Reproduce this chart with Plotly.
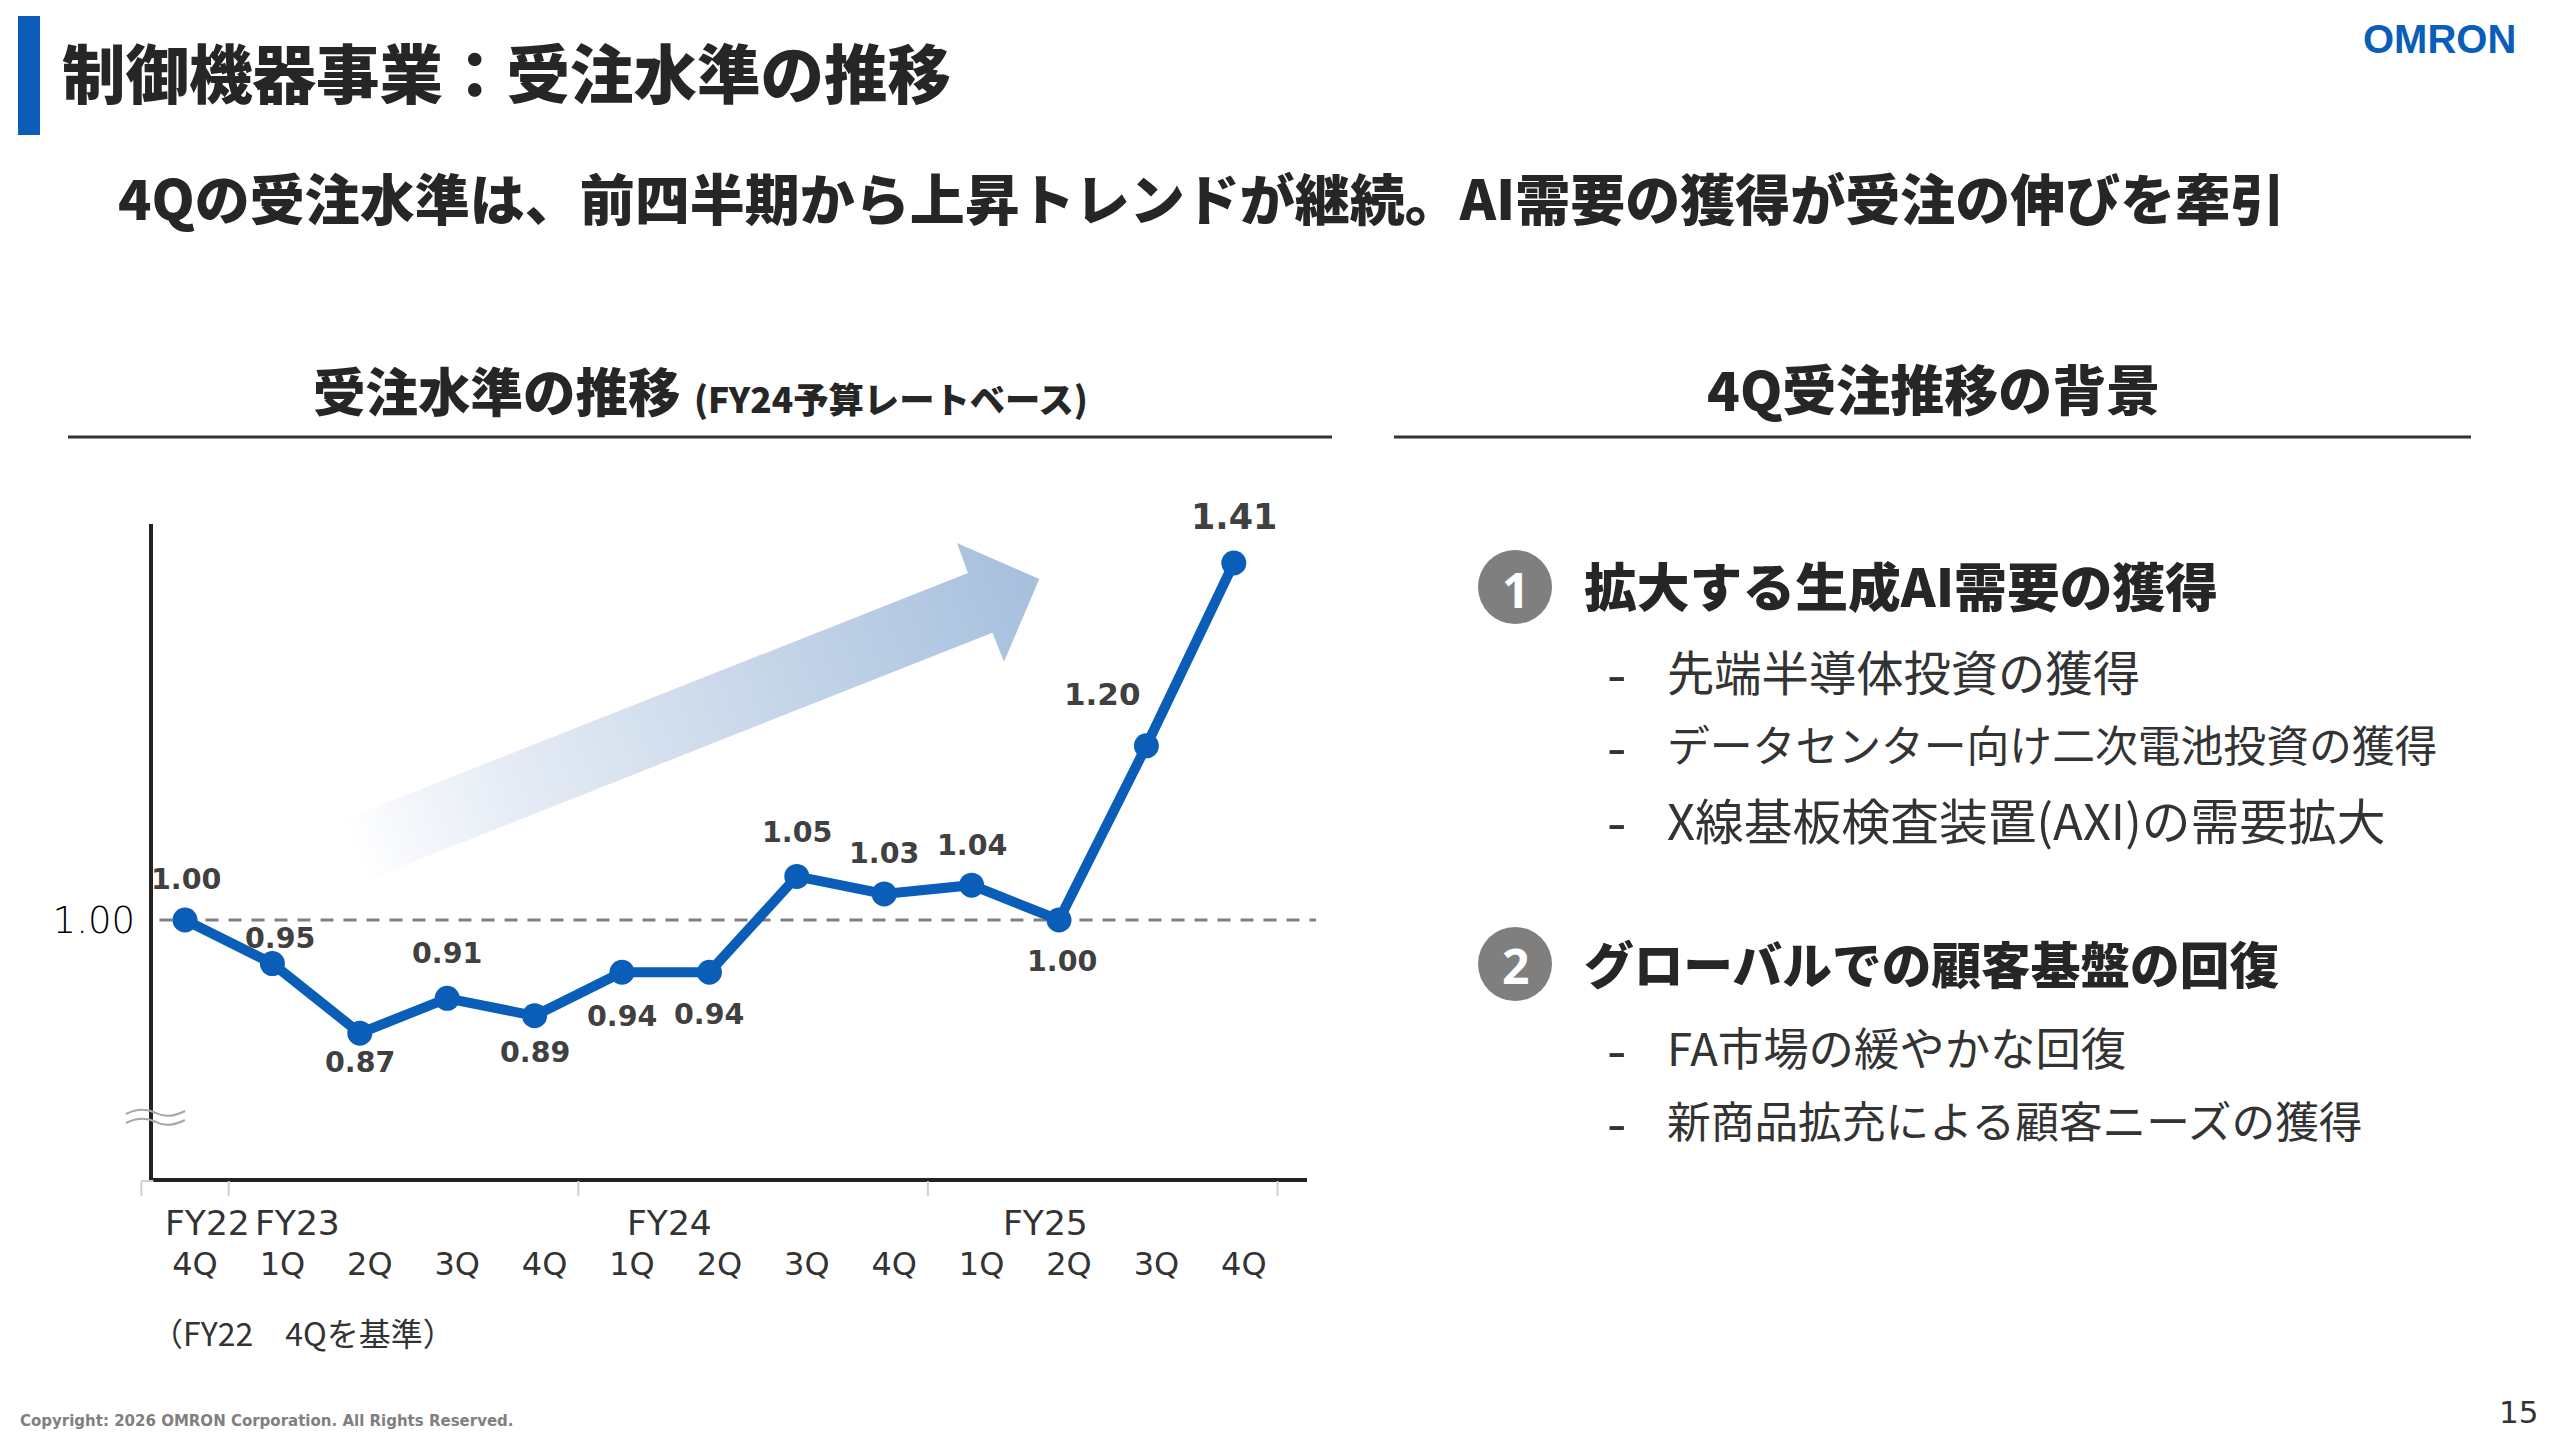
import base64
import plotly.graph_objects as go

W, H = 2560, 1440

# Chart data
quarter_labels = ["4Q", "1Q", "2Q", "3Q", "4Q", "1Q", "2Q", "3Q", "4Q", "1Q", "2Q", "3Q", "4Q"]
order_levels = [1.00, 0.95, 0.87, 0.91, 0.89, 0.94, 0.94, 1.05, 1.03, 1.04, 1.00, 1.20, 1.41]
fiscal_years = ["FY22", "FY23", "FY24", "FY25"]
fiscal_year_positions = [0.26, 1.29, 5.54, 9.85]
fiscal_year_edges = [-0.5, 0.5, 4.5, 8.5, 12.5]
baseline = 1.00

# Text of the right-hand panel
drivers = ["拡大する生成AI需要の獲得", "グローバルでの顧客基盤の回復"]
driver_items = [
    ["先端半導体投資の獲得", "データセンター向け二次電池投資の獲得", "X線基板検査装置(AXI)の需要拡大"],
    ["FA市場の緩やかな回復", "新商品拡充による顧客ニーズの獲得"],
]

# Placement of the value labels relative to their points (px)
label_offsets = [(1, 41), (8, 25), (0, -29), (0, 45), (0, -37), (0, -44), (0, -42),
                 (0, 44), (0, 40), (0, 40), (3, -41), (-44, 52), (0, 46)]
label_sizes = [28.5, 28.5, 28.5, 28.5, 28.5, 28.5, 28.5, 28.5, 28.5, 28.5, 28.5, 31, 35]

BLUE = "#0A5EB8"
DARK = "#262626"
JP = "Noto Sans CJK JP"
LATIN = "DejaVu Sans"

# Plot box on the canvas, in pixels
LEFT, RIGHT, TOP, BOTTOM = 153.4, 1307.0, 524.0, 1178.0
FIRST_X, STEP_X = 185.0, 87.4
Y_AT_BASE, PX_PER_UNIT = 920.0, 870.7


def px(x):
    return x / W


def py(y):
    return 1 - y / H


def cat_to_canvas(c):
    return FIRST_X + STEP_X * c


annotations = []


def put(x, y, text, size, anchor="left", bold=False, color=DARK, family=JP, weight=None):
    annotations.append(dict(
        x=px(x), y=py(y), xref="paper", yref="paper", text=text, showarrow=False,
        xanchor=anchor, yanchor="middle",
        font=dict(family=family, size=size, color=color,
                  weight=weight if weight else (700 if bold else 400)),
    ))


shapes = []


def rule(x0, y0, x1, y1, color, width):
    shapes.append(dict(type="line", xref="paper", yref="paper",
                       x0=px(x0), y0=py(y0), x1=px(x1), y1=py(y1),
                       line=dict(color=color, width=width)))


def disc(cx, cy, r, color):
    shapes.append(dict(type="circle", xref="paper", yref="paper",
                       x0=px(cx - r), x1=px(cx + r), y0=py(cy - r), y1=py(cy + r),
                       fillcolor=color, line=dict(width=0)))


fig = go.Figure()

fig.add_trace(go.Scatter(
    x=list(range(len(order_levels))), y=order_levels, mode="lines+markers",
    line=dict(color=BLUE, width=10), marker=dict(color=BLUE, size=25),
    cliponaxis=False, hoverinfo="skip", showlegend=False,
))

# Title block
shapes.append(dict(type="rect", xref="paper", yref="paper",
                   x0=px(18), x1=px(40), y0=py(16), y1=py(135),
                   fillcolor=BLUE, line=dict(width=0)))
put(60, 70, "制御機器事業：受注水準の推移", 63.5, weight=900)
put(116, 196, "4Qの受注水準は、前四半期から上昇トレンドが継続。AI需要の獲得が受注の伸びを牽引", 55, weight=900)
put(2518, 39, "OMRON", 40, anchor="right", bold=True, color=BLUE, family="Liberation Sans")

# Section headings and their rules
put(311, 389, "受注水準の推移", 52.5, weight=900)
put(692, 397, "(FY24予算レートベース)", 35.3, weight=900)
put(1933, 387, "4Q受注推移の背景", 54, anchor="center", weight=900)
rule(68, 437, 1332, 437, "#333333", 3)
rule(1394, 437, 2471, 437, "#333333", 3)

# Baseline across the plot
shapes.append(dict(type="line", xref="paper", yref="y",
                   x0=px(159.5), x1=px(1316), y0=baseline, y1=baseline,
                   line=dict(color="#808080", width=3, dash="13px,10px"), layer="below"))

# Fiscal-year separators under the category axis
for edge in fiscal_year_edges:
    ex = cat_to_canvas(edge)
    rule(ex, 1181, ex, 1196, "#D0D0D0", 2)
rule(cat_to_canvas(fiscal_year_edges[0]), 1181, LEFT, 1181, "#D0D0D0", 2)

for name, pos in zip(fiscal_years, fiscal_year_positions):
    annotations.append(dict(
        x=pos, y=py(1223), xref="x", yref="paper", text=name, showarrow=False,
        xanchor="center", yanchor="middle",
        font=dict(family=LATIN, size=34.5, color="#333333"),
    ))

put(149, 1332, "（FY22　4Qを基準）", 32, color="#333333")

# Axis-break mark
for dy in (0, 9):
    shapes.append(dict(
        type="path", xref="paper", yref="paper",
        path=(f"M {px(126)} {py(1114 + dy)} C {px(140)} {py(1107 + dy)}, {px(150)} {py(1110 + dy)}, "
              f"{px(156)} {py(1113 + dy)} C {px(165)} {py(1118 + dy)}, {px(175)} {py(1116 + dy)}, "
              f"{px(185)} {py(1111 + dy)}"),
        line=dict(color="#A6A6A6", width=2),
    ))

# Value labels
for i, (value, (dx, dy), size) in enumerate(zip(order_levels, label_offsets, label_sizes)):
    annotations.append(dict(
        x=i, y=value, xref="x", yref="y", text=f"{value:.2f}", showarrow=False,
        xshift=dx, yshift=dy, xanchor="center", yanchor="middle",
        font=dict(family=LATIN, size=size, color="#404040", weight=700),
    ))

# Right-hand panel
driver_rows = [(587, 584, [670, 743, 818]), (964, 962, [1046, 1119])]
driver_sizes = [52.8, 49.7]
item_sizes = [[47.3, 42.8, 48.8], [45.4, 43.7]]
for n, (title, items, (cy, ty, rows)) in enumerate(zip(drivers, driver_items, driver_rows)):
    disc(1515, cy, 37, "#7F7F7F")
    put(1515, cy + 2, str(n + 1), 48, anchor="center", bold=True, color="#FFFFFF", family="Noto Sans")
    put(1582, ty, title, driver_sizes[n], weight=900)
    for item, row, size in zip(items, rows, item_sizes[n]):
        put(1605, row, "-", 56, color="#333333")
        put(1665, row, item, size, color="#333333")

# Footer
put(18, 1421, "Copyright: 2026 OMRON Corporation. All Rights Reserved.", 15,
    bold=True, color="#808080", family=LATIN)
put(2518, 1412, "15", 31, anchor="center", color="#333333", family=LATIN)

# Trend arrow with a gradient running along its direction
ax0, ay0, ax1, ay1 = 320, 530, 1060, 890
points = [(367, 880), (992.4, 632.7), (1004, 661.7), (1039.3, 579), (957, 543), (968, 573), (343, 820)]
poly = " ".join(f"{x},{y}" for x, y in points)
arrow_svg = (
    f'<svg xmlns="http://www.w3.org/2000/svg" width="{ax1 - ax0}" height="{ay1 - ay0}" '
    f'viewBox="{ax0} {ay0} {ax1 - ax0} {ay1 - ay0}">'
    '<defs><linearGradient id="g" gradientUnits="userSpaceOnUse" x1="355" y1="850" x2="1039" y2="579">'
    '<stop offset="0" stop-color="#FFFFFF"/><stop offset="0.07" stop-color="#F6F8FC"/>'
    '<stop offset="0.24" stop-color="#E4EBF5"/><stop offset="0.5" stop-color="#CFDCEC"/>'
    '<stop offset="1" stop-color="#A6BFDD"/>'
    '</linearGradient></defs>'
    f'<polygon points="{poly}" fill="url(#g)"/></svg>'
)
arrow_uri = "data:image/svg+xml;base64," + base64.b64encode(arrow_svg.encode()).decode()

fig.update_layout(
    width=W, height=H, autosize=False,
    margin=dict(l=0, r=0, t=0, b=0),
    paper_bgcolor="white", plot_bgcolor="white",
    showlegend=False,
    shapes=shapes, annotations=annotations,
    images=[dict(source=arrow_uri, xref="paper", yref="paper",
                 x=px(ax0), y=py(ay0), sizex=(ax1 - ax0) / W, sizey=(ay1 - ay0) / H,
                 xanchor="left", yanchor="top", sizing="stretch", layer="below")],
    xaxis=dict(
        domain=[px(LEFT), px(RIGHT)],
        range=[(LEFT - FIRST_X) / STEP_X, (RIGHT - FIRST_X) / STEP_X],
        tickmode="array", tickvals=list(range(len(quarter_labels))), ticktext=quarter_labels,
        ticks="", showgrid=False, zeroline=False,
        showline=True, linecolor="#222222", linewidth=4,
        tickfont=dict(family=LATIN, size=32, color="#333333"),
        ticklabelshift=10, ticklabelstandoff=55,
    ),
    yaxis=dict(
        domain=[py(BOTTOM), py(TOP)],
        range=[baseline - (BOTTOM - Y_AT_BASE) / PX_PER_UNIT, baseline + (Y_AT_BASE - TOP) / PX_PER_UNIT],
        tickmode="array", tickvals=[baseline], ticktext=["1.00"],
        ticks="", showgrid=False, zeroline=False,
        showline=True, linecolor="#222222", linewidth=4,
        tickfont=dict(family="DejaVu Sans Light, DejaVu Sans", size=37, color="#000000"),
        ticklabelstandoff=7,
    ),
)

fig.write_html("out.html", config={"displayModeBar": False})
